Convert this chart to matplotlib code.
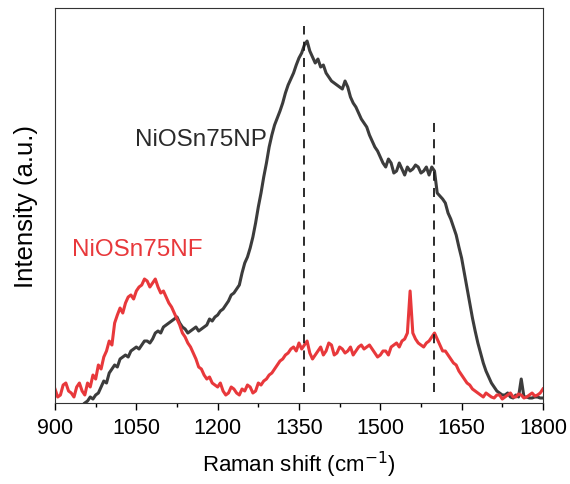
import numpy as np
import matplotlib
matplotlib.use('Agg')
import matplotlib.pyplot as plt
from matplotlib.ticker import MultipleLocator

plt.rcParams['font.family'] = ['Liberation Sans', 'DejaVu Sans']

# Raman spectra (arbitrary units), 5 cm-1 steps
shift_nf = np.arange(900, 1801, 5)
nf = [14, 6, 8, 18, 20, 12, 10, 6, 16, 20, 12, 8, 20, 16, 28, 24, 38, 34, 46, 52,
      62, 58, 80, 88, 95, 90, 100, 106, 108, 104, 112, 116, 118, 124, 122, 116, 120, 124, 116, 110,
      112, 106, 100, 96, 90, 84, 78, 70, 66, 60, 56, 50, 44, 36, 34, 28, 24, 26, 20, 18,
      16, 20, 12, 8, 10, 16, 14, 10, 8, 14, 12, 18, 16, 10, 12, 20, 18, 22, 24, 28,
      30, 34, 38, 42, 44, 48, 50, 54, 56, 52, 60, 54, 58, 62, 50, 44, 48, 52, 56, 48,
      52, 60, 58, 48, 50, 56, 54, 50, 52, 56, 48, 52, 56, 58, 54, 56, 58, 54, 50, 46,
      48, 52, 52, 48, 56, 58, 60, 56, 62, 64, 70, 112, 70, 64, 60, 58, 56, 60, 62, 66,
      70, 64, 58, 52, 52, 48, 44, 40, 38, 32, 28, 24, 20, 18, 14, 12, 10, 8, 6, 10,
      8, 6, 5, 8, 8, 4, 6, 8, 10, 6, 6, 9, 8, 5, 6, 8, 10, 7, 8, 10,
      14]

shift_np = np.arange(955, 1801, 5)
np_ = [0, 2, 6, 4, 8, 10, 16, 22, 20, 30, 34, 38, 36, 44, 46, 48, 46, 52, 54, 56,
       54, 58, 62, 62, 60, 64, 70, 72, 70, 76, 78, 80, 82, 84, 86, 80, 76, 74, 70, 72,
       74, 76, 72, 74, 76, 78, 84, 82, 86, 88, 92, 94, 98, 102, 108, 110, 114, 118, 130, 140,
       146, 155, 166, 180, 196, 210, 226, 240, 256, 268, 278, 285, 292, 300, 310, 318, 324, 330, 338, 345,
       350, 358, 362, 352, 346, 340, 344, 336, 338, 330, 326, 322, 320, 318, 316, 314, 322, 316, 306, 300,
       296, 290, 284, 280, 276, 268, 262, 256, 252, 246, 240, 236, 244, 240, 230, 232, 240, 234, 228, 236,
       232, 234, 238, 236, 230, 232, 236, 228, 236, 232, 210, 207, 204, 200, 190, 184, 176, 168, 156, 145,
       130, 115, 100, 85, 72, 60, 50, 40, 32, 26, 20, 16, 12, 10, 8, 8, 10, 6, 5, 8,
       6, 24, 6, 6, 5, 5, 6, 6, 5, 5]

peak_lines = [1360, 1600]
peak_tops = [377, 282]

fig = plt.figure(figsize=(5.7, 4.85), dpi=100)
ax = fig.add_axes([0.0965, 0.167, 0.856, 0.8144])

ax.plot(shift_np, np_, color='#3c3c3c', lw=2.2)
ax.plot(shift_nf, nf, color='#e8383b', lw=2.2)

for xv, top in zip(peak_lines, peak_tops):
    ax.plot([xv, xv], [11, top], color='#1a1a1a', lw=1.3, ls=(0, (5, 4)))

ax.text(1048, 264, 'NiOSn75NP', color='#2a2a2a', fontsize=17.5, va='center')
ax.text(931, 154, 'NiOSn75NF', color='#e8383b', fontsize=17.5, va='center')

ax.set_xlim(900, 1800)
ax.set_ylim(0, 395)
ax.xaxis.set_major_locator(MultipleLocator(150))
ax.xaxis.set_minor_locator(MultipleLocator(75))
ax.set_yticks([])
ax.tick_params(axis='x', which='major', direction='out', length=5, width=1, labelsize=15.5, pad=5)
ax.tick_params(axis='x', which='minor', direction='out', length=3, width=1)
for s in ax.spines.values():
    s.set_color('#333333')
ax.set_xlabel('Raman shift (cm$^{-1}$)', fontsize=16, labelpad=8)
ax.set_ylabel('Intensity (a.u.)', fontsize=18.5, labelpad=12)

fig.savefig('out.png', dpi=100)
